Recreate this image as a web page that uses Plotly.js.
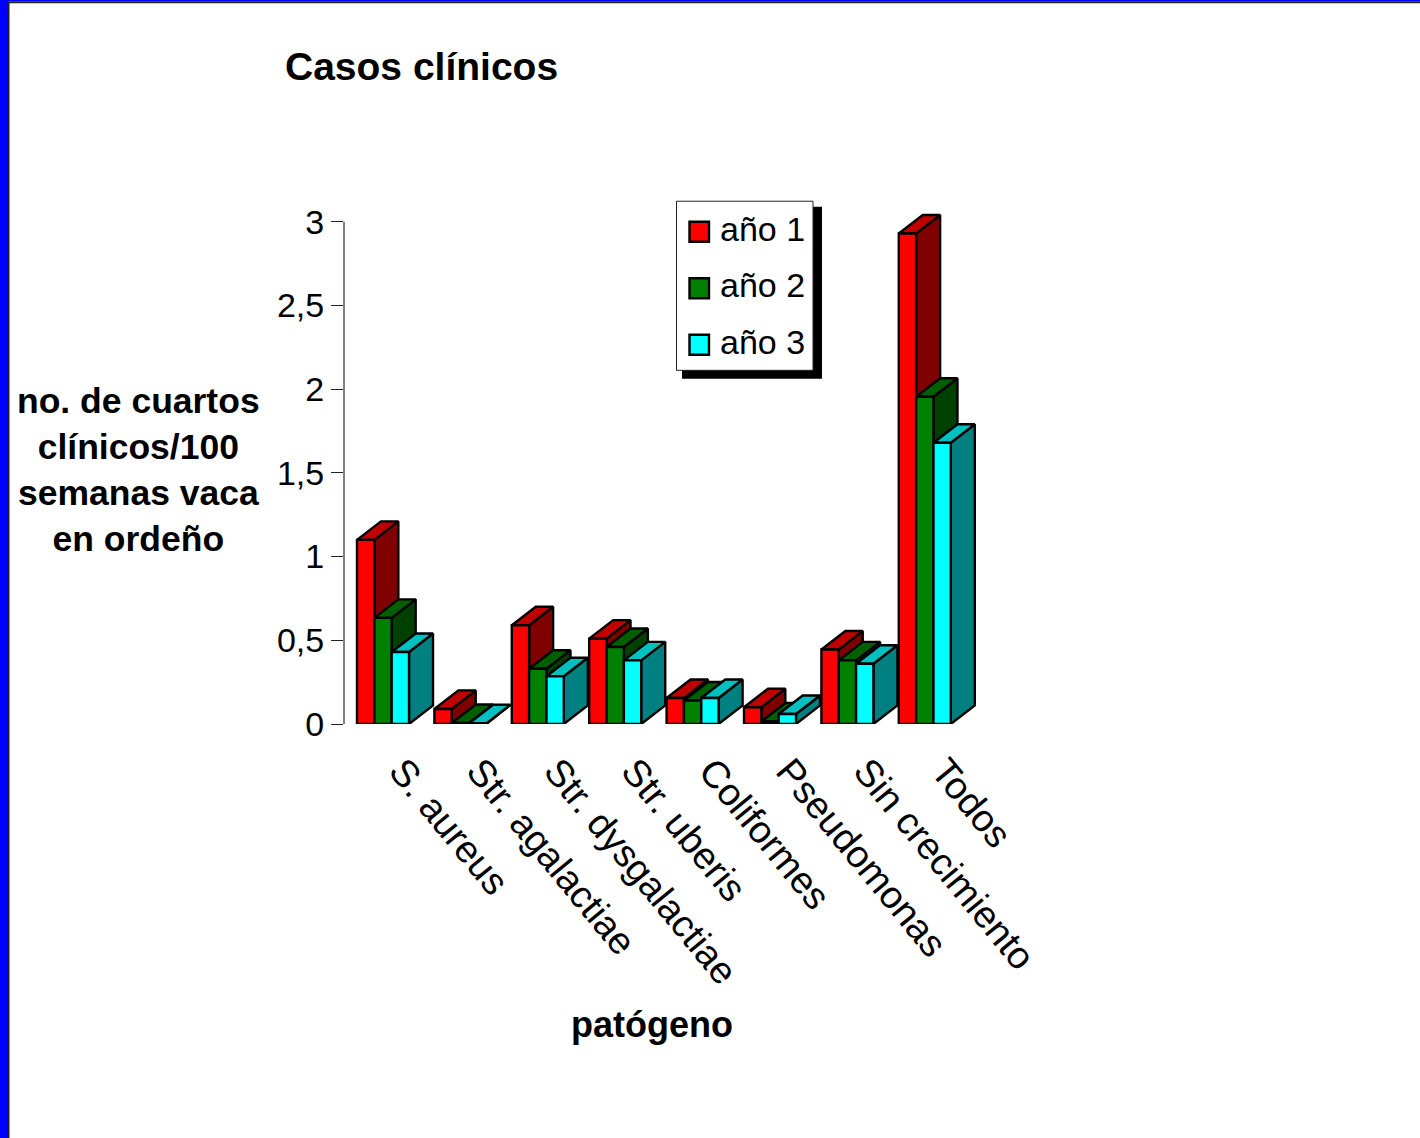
<!DOCTYPE html>
<html><head><meta charset="utf-8">
<script src="https://cdn.plot.ly/plotly-3.0.0.min.js"></script>
<style>html,body{margin:0;padding:0;background:#fff}#c{width:1420px;height:1138px}</style>
</head><body><div id="c"></div>
<script>
const categories = ["S. aureus","Str. agalactiae","Str. dysgalactiae","Str. uberis","Coliformes","Pseudomonas","Sin crecimiento","Todos"];
const ano1 = [1.10,0.09,0.59,0.51,0.155,0.10,0.445,2.93];
const ano2 = [0.634,0.006,0.33,0.46,0.14,0.015,0.38,1.955];
const ano3 = [0.43,0.004,0.285,0.38,0.155,0.06,0.36,1.68];
const seriesNames = ["año 1","año 2","año 3"];
const yTickVals = [0,0.5,1,1.5,2,2.5,3];
const yTickText = ["0","0,5","1","1,5","2","2,5","3"];
const frontColors = ["#FF0000","#008000","#00FFFF"];
const topColors = ["#C00000","#006000","#00C0C0"];
const sideColors = ["#800000","#004000","#008080"];

const W=1420,H=1138,L=344,R=436,B=414;
const ppu=502/3, yMax=3.1;
const T=H-B-yMax*ppu;
const pw=W-L-R, ph=H-T-B;
const pitch=77.4;
const xRange=[(L-383)/pitch,(L+pw-383)/pitch];
const px=v=>(v-L)/pw, py=v=>1-(v-T)/ph;
const gap=0.328;
const barW=(1-gap)/3, depthX=24/pitch, depthY=18.5/ppu;
const allSeries=[ano1,ano2,ano3];
const idx=categories.map((_,i)=>i);
const STROKE=2.4;

const traces=[];
allSeries.forEach((vals,s)=>{
  const sideX=[],sideY=[],topX=[],topY=[];
  vals.forEach((v,i)=>{
    const x0=i-1.5*barW+s*barW, x1=x0+barW;
    sideX.push(x1,x1+depthX,x1+depthX,x1,x1,null);
    sideY.push(0,depthY,v+depthY,v,0,null);
    topX.push(x0,x0+depthX,x1+depthX,x1,x0,null);
    topY.push(v,v+depthY,v+depthY,v,v,null);
  });
  const base={type:'scatter',mode:'lines',fill:'toself',cliponaxis:false,showlegend:false,hoverinfo:'skip',
    xaxis:'x',yaxis:'y'};
  traces.push(Object.assign({},base,{x:sideX,y:sideY,fillcolor:sideColors[s],line:{color:'#000',width:STROKE}}));
  traces.push(Object.assign({},base,{x:topX,y:topY,fillcolor:topColors[s],line:{color:'#000',width:STROKE}}));
});
allSeries.forEach((vals,s)=>{
  traces.push({type:'bar',name:seriesNames[s],x:idx,y:vals,xaxis:'x2',yaxis:'y2',showlegend:false,
    marker:{color:frontColors[s],line:{color:'#000',width:STROKE}}});
});

const FONT='"Liberation Sans", Arial, sans-serif';
const rect=(x0,y0,x1,y1,fill,line,lw)=>({type:'rect',xref:'paper',yref:'paper',layer:'above',
  x0:px(x0),x1:px(x1),y0:py(y0),y1:py(y1),fillcolor:fill,line:{color:line||fill,width:lw||0}});
const shapes=[
  rect(0,0,8,H,'#0000FF'),
  rect(0,0,W,2,'#0000FF'),
  rect(8,2,9.5,H,'#222'),
  rect(8,2,W,3.5,'#222'),
  rect(682,207,822,379,'#000'),
  rect(676.5,201.5,813,370.5,'#fff','#222',1),
  {type:'line',xref:'paper',yref:'y',x0:0,x1:0,y0:0,y1:3,line:{color:'#808080',width:2},layer:'below'}
];
const swatchTop=[222,278.5,335];
const annotations=[];
seriesNames.forEach((n,s)=>{
  shapes.push(rect(689.5,swatchTop[s],709,swatchTop[s]+20,frontColors[s],'#000',2.4));
  annotations.push({xref:'paper',yref:'paper',x:px(718.5),y:py(swatchTop[s]+7),xanchor:'left',yanchor:'middle',
    text:n,showarrow:false,font:{family:FONT,size:34,color:'#000'},borderpad:0});
});
annotations.push({xref:'paper',yref:'paper',x:px(421.5),y:py(66.5),xanchor:'center',yanchor:'middle',showarrow:false,
  text:'<b>Casos clínicos</b>',font:{family:FONT,size:39,color:'#000'}});
annotations.push({xref:'paper',yref:'paper',x:px(138.5),y:py(470.5),xanchor:'center',yanchor:'middle',showarrow:false,align:'center',
  text:'<b>no. de cuartos<br>clínicos/100<br>semanas vaca<br>en ordeño</b>',font:{family:FONT,size:35.5,color:'#000'}});
annotations.push({xref:'paper',yref:'paper',x:px(652),y:py(1024.5),xanchor:'center',yanchor:'middle',showarrow:false,
  text:'<b>patógeno</b>',font:{family:FONT,size:36,color:'#000'}});

const layout={
  width:W,height:H,autosize:false,showlegend:false,
  margin:{l:L,r:R,t:T,b:B,pad:0},
  paper_bgcolor:'#fff',plot_bgcolor:'#fff',
  barmode:'group',bargap:gap,bargroupgap:0,
  font:{family:FONT,color:'#000'},
  xaxis:{range:xRange,tickmode:'array',tickvals:idx,ticktext:categories,tickangle:50.5,ticks:'',
    ticklabelshift:19,ticklabelstandoff:16,
    showgrid:false,zeroline:false,showline:false,tickfont:{family:FONT,size:38,color:'#000'},automargin:false,fixedrange:true},
  yaxis:{range:[0,yMax],tickmode:'array',tickvals:yTickVals,ticktext:yTickText,ticks:'outside',ticklen:12,tickwidth:1,tickcolor:'#222',
    showgrid:false,zeroline:false,showline:false,tickfont:{family:FONT,size:34,color:'#000'},automargin:false,fixedrange:true},
  xaxis2:{range:xRange,overlaying:'x',matches:'x',visible:false,fixedrange:true},
  yaxis2:{range:[0,yMax],overlaying:'y',anchor:'x2',visible:false,fixedrange:true},
  shapes,annotations
};
Plotly.newPlot('c',traces,layout,{displayModeBar:false,staticPlot:true});
</script></body></html>
